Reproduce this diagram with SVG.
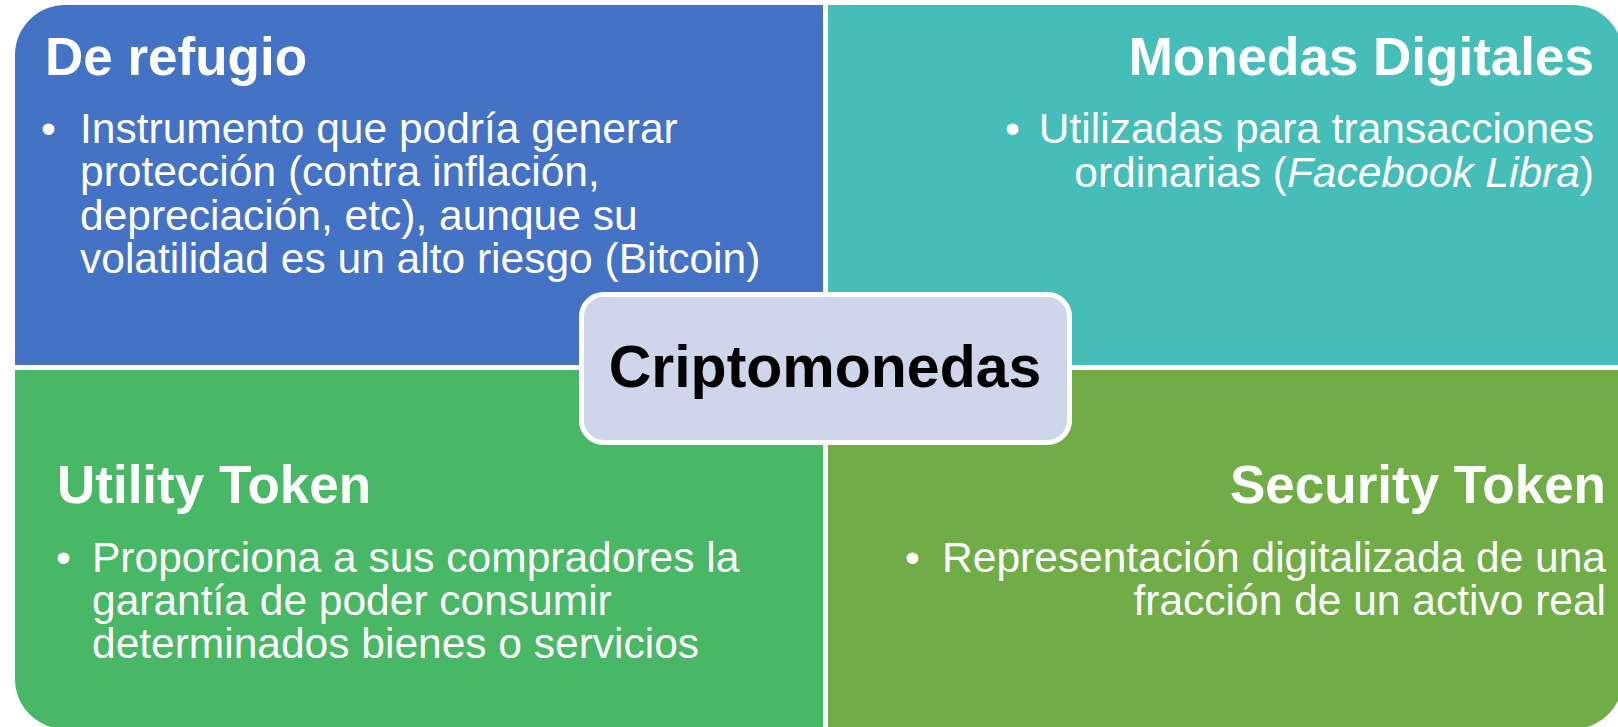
<svg xmlns="http://www.w3.org/2000/svg" width="1618" height="727" viewBox="0 0 1618 727">
<style>
text { font-family: "Liberation Sans", Arial, sans-serif; }
.title { font-size: 53px; font-weight: bold; fill: #ffffff; }
.body { font-size: 42.5px; fill: #ffffff; }
.center { font-size: 59px; font-weight: bold; fill: #000000; }
.end { text-anchor: end; }
</style>
<rect width="1618" height="727" fill="#ffffff"/>
<g id="refugio">
  <path d="M15,55 A50,50 0 0 1 65,5 H823 V365 H15 Z" fill="#4472C4"/>
  <text class="title" x="45" y="75">De refugio</text>
  <text class="body" x="41" y="143">•</text>
  <text class="body" x="80" y="143">Instrumento que podría generar</text>
  <text class="body" x="80" y="186">protección (contra inflación,</text>
  <text class="body" x="80" y="230">depreciación, etc), aunque su</text>
  <text class="body" x="80" y="273">volatilidad es un alto riesgo (Bitcoin)</text>
</g>
<g id="monedas-digitales">
  <path d="M828,5 H1573 A50,50 0 0 1 1623,55 V365 H828 Z" fill="#45BDB8"/>
  <text class="title end" x="1594" y="75">Monedas Digitales</text>
  <text class="body" x="1005" y="143">•</text>
  <text class="body end" x="1594" y="143">Utilizadas para transacciones</text>
  <text class="body end" x="1594" y="187">ordinarias (<tspan font-style="italic">Facebook Libra</tspan>)</text>
</g>
<g id="utility-token">
  <path d="M15,370 H823 V729 H65 A50,50 0 0 1 15,679 Z" fill="#48B766"/>
  <text class="title" x="57" y="503">Utility Token</text>
  <text class="body" x="56" y="572">•</text>
  <text class="body" x="92" y="572">Proporciona a sus compradores la</text>
  <text class="body" x="92" y="615">garantía de poder consumir</text>
  <text class="body" x="92" y="658">determinados bienes o servicios</text>
</g>
<g id="security-token">
  <path d="M828,370 H1623 V679 A50,50 0 0 1 1573,729 H828 Z" fill="#70AD47"/>
  <text class="title end" x="1606" y="503">Security Token</text>
  <text class="body" x="905" y="572">•</text>
  <text class="body end" x="1606" y="572">Representación digitalizada de una</text>
  <text class="body end" x="1606" y="615">fracción de un activo real</text>
</g>
<g id="criptomonedas">
  <rect x="581.5" y="294.5" width="488" height="148" rx="22" ry="22" fill="#CFD5EA" stroke="#ffffff" stroke-width="5"/>
  <text class="center" x="825" y="387" text-anchor="middle">Criptomonedas</text>
</g>
</svg>
